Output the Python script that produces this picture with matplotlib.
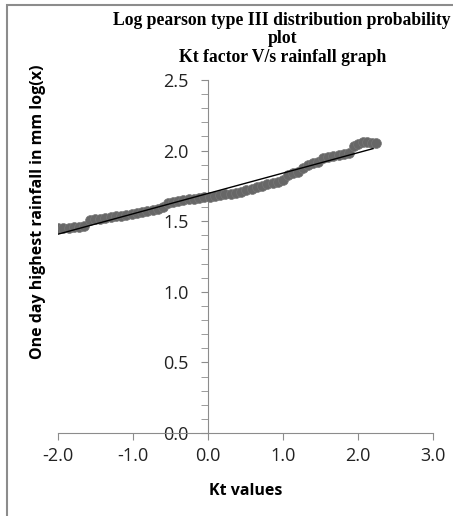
import matplotlib.pyplot as plt
import numpy as np
from matplotlib.patches import Rectangle

# Kt factor vs log of one day highest rainfall
kt = [-2.00, -1.93, -1.86, -1.79, -1.72, -1.65, -1.58, -1.51, -1.44, -1.37,
      -1.30, -1.23, -1.16, -1.09, -1.02, -0.95, -0.88, -0.81, -0.74, -0.67,
      -0.60, -0.54, -0.47, -0.40, -0.33, -0.26, -0.19, -0.12, -0.05, 0.02,
      0.09, 0.16, 0.23, 0.30, 0.37, 0.44, 0.51, 0.58, 0.65, 0.72,
      0.79, 0.86, 0.93, 1.00, 1.06, 1.13, 1.20, 1.27, 1.33, 1.40,
      1.47, 1.53, 1.60, 1.67, 1.74, 1.81, 1.88, 1.94, 2.00, 2.06,
      2.12, 2.18, 2.24]
log_rain = [1.450, 1.452, 1.455, 1.458, 1.462, 1.468, 1.505, 1.515, 1.518, 1.522,
            1.528, 1.535, 1.540, 1.545, 1.552, 1.560, 1.566, 1.572, 1.580, 1.588,
            1.598, 1.630, 1.638, 1.642, 1.648, 1.655, 1.660, 1.665, 1.668, 1.672,
            1.678, 1.685, 1.690, 1.695, 1.702, 1.710, 1.718, 1.725, 1.740, 1.752,
            1.760, 1.768, 1.780, 1.790, 1.830, 1.840, 1.850, 1.880, 1.900, 1.910,
            1.920, 1.945, 1.955, 1.962, 1.970, 1.978, 1.985, 2.030, 2.050, 2.058,
            2.058, 2.056, 2.055]

x_ticks = [-2.0, -1.0, 0.0, 1.0, 2.0, 3.0]
y_ticks = [0.0, 0.5, 1.0, 1.5, 2.0, 2.5]

fig = plt.figure(figsize=(4.53, 5.16), dpi=100)
ax = fig.add_axes([58 / 453, 83 / 516, 375 / 453, 353 / 516])

x = np.array(kt)
y = np.array(log_rain)
ax.scatter(x, y, s=50, color='#676767', edgecolors='#777777', linewidths=0.5, zorder=3)

# linear trend line
m, c = np.polyfit(x, y, 1)
xl = np.array([-2.0, 2.2])
ax.plot(xl, m * xl + c, color='black', lw=1.0, zorder=4)

ax.set_xlim(-2.0, 3.0)
ax.set_ylim(0.0, 2.5)
ax.set_xticks(x_ticks)
ax.set_yticks(y_ticks)
ax.set_yticks(np.arange(0, 2.51, 0.1), minor=True)
ax.set_xticklabels([f'{v:.1f}' for v in x_ticks])
ax.set_yticklabels([f'{v:.1f}' for v in y_ticks])

for s in ['top', 'right']:
    ax.spines[s].set_visible(False)
ax.spines['left'].set_position(('data', 0))
ax.spines['bottom'].set_position(('data', 0))
ax.spines['left'].set_color('#8c8c8c')
ax.spines['bottom'].set_color('#8c8c8c')
ax.tick_params(axis='both', which='both', color='#8c8c8c', direction='out', length=5,
               labelsize=13, labelcolor='#222222')
ax.tick_params(axis='x', pad=5)
ax.tick_params(axis='y', pad=9)
for lab in ax.get_xticklabels() + ax.get_yticklabels():
    lab.set_family('Open Sans')

ax.set_xlabel('Kt values', fontsize=11.5, fontweight='bold', family='Open Sans', labelpad=13)
fig.text(38.5 / 453, 1 - 212 / 516, 'One day highest rainfall in mm log(x)', rotation=90,
         fontsize=11.5, fontweight='bold', family='Open Sans', ha='center', va='center')

fig.text(0.623, 0.925, 'Log pearson type III distribution probability\nplot\nKt factor V/s rainfall graph',
         fontsize=12.7, fontweight='bold', family='Liberation Serif', ha='center', va='center',
         linespacing=1.1)

# chart border: only the top and left edges fall inside the image
fig.add_artist(Rectangle((7 / 453, -0.1), 1.2, 0.1 + 511 / 516, fill=False,
                         edgecolor='#8c8c8c', lw=1.5, transform=fig.transFigure))

fig.savefig('out.png', dpi=100)
